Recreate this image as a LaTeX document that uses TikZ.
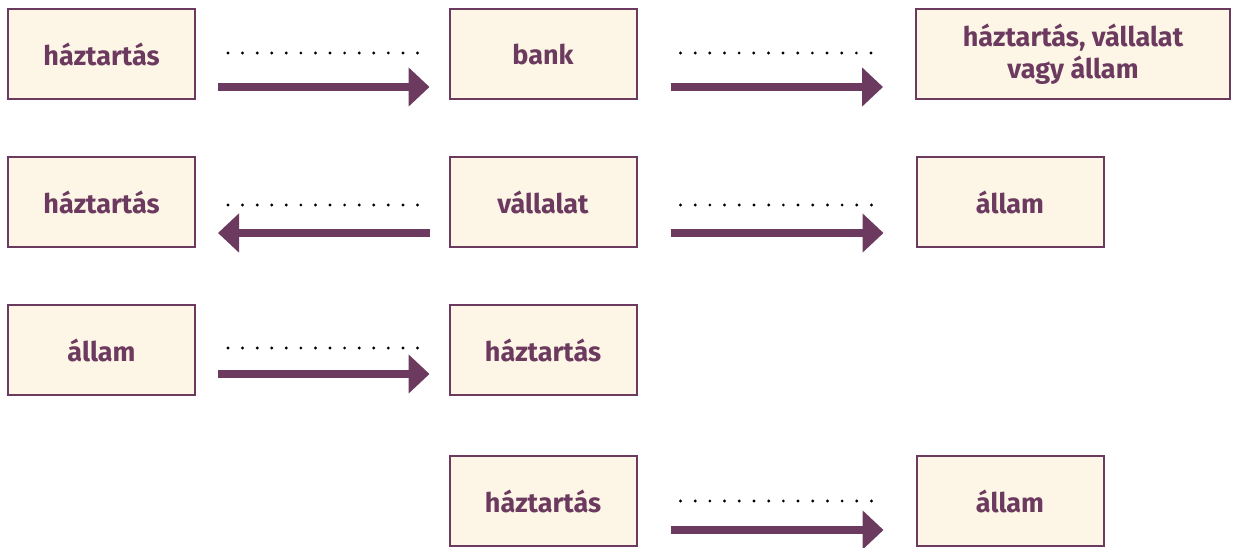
\documentclass[tikz,border=0pt]{standalone}
\usepackage{fontspec}
\setmainfont{Fira Sans}
\usetikzlibrary{arrows.meta,calc}
\definecolor{plum}{HTML}{6B3A5E}
\definecolor{cream}{HTML}{FDF5E6}
\tikzset{
  box/.style={draw=plum, line width=2pt, fill=cream, minimum width=187pt, minimum height=90pt,
    inner sep=0pt, align=center, text=plum, font=\fontsize{27}{32}\selectfont\bfseries},
  widebox/.style={box, minimum width=314pt},
  flow/.style={draw=plum, line width=8pt, -{Triangle[length=21pt,width=38pt]}}
}
\newcommand{\dotrow}[2]{%
  \foreach \k in {0,...,13} {\fill[black] ($(#1)!\k/13!(#2)$) circle (1.6pt);}}
\begin{document}
\begin{tikzpicture}[x=1pt,y=-1pt]
\useasboundingbox (0,0) rectangle (1237,548);
% row 1
\node[box] (h1) at (101.5,54) {háztartás};
\node[box] (b1) at (543,54) {bank};
\node[widebox] (w1) at (1073,54) {háztartás, vállalat\\vagy állam};
% row 2
\node[box] (h2) at (101.5,202) {háztartás};
\node[box] (v2) at (543,202) {vállalat};
\node[box] (a2) at (1010,202) {állam};
% row 3
\node[box] (a3) at (101.5,350) {állam};
\node[box] (h3) at (543,350) {háztartás};
% row 4
\node[box] (h4) at (543,501) {háztartás};
\node[box] (a4) at (1010,501) {állam};

% dotted-line end points
\coordinate (d1a) at ([xshift=32pt,yshift=1pt]h1.east);
\coordinate (d1b) at ([xshift=-31pt,yshift=1pt]b1.west);
\coordinate (d2a) at ([xshift=43pt,yshift=1pt]b1.east);
\coordinate (d2b) at ([xshift=-44pt,yshift=1pt]w1.west);
\coordinate (d3a) at ([xshift=32pt,yshift=-3pt]h2.east);
\coordinate (d3b) at ([xshift=-31pt,yshift=-3pt]v2.west);
\coordinate (d4a) at ([xshift=43pt,yshift=-3pt]v2.east);
\coordinate (d4b) at ([xshift=-44pt,yshift=-3pt]a2.west);
\coordinate (d5a) at ([xshift=32pt,yshift=2pt]a3.east);
\coordinate (d5b) at ([xshift=-31pt,yshift=2pt]h3.west);
\coordinate (d6a) at ([xshift=43pt]h4.east);
\coordinate (d6b) at ([xshift=-44pt]a4.west);
\dotrow{d1a}{d1b}
\dotrow{d2a}{d2b}
\dotrow{d3a}{d3b}
\dotrow{d4a}{d4b}
\dotrow{d5a}{d5b}
\dotrow{d6a}{d6b}

% arrows
\draw[flow] ([xshift=22pt,yshift=-33pt]h1.east) -- ([xshift=-19pt,yshift=-33pt]b1.west);
\draw[flow] ([xshift=33pt,yshift=-33pt]b1.east) -- ([xshift=-32pt,yshift=-33pt]w1.west);
\draw[flow] ([xshift=-19pt,yshift=-31pt]v2.west) -- ([xshift=22pt,yshift=-31pt]h2.east);
\draw[flow] ([xshift=33pt,yshift=-31pt]v2.east) -- ([xshift=-32pt,yshift=-31pt]a2.west);
\draw[flow] ([xshift=22pt,yshift=-24pt]a3.east) -- ([xshift=-19pt,yshift=-24pt]h3.west);
\draw[flow] ([xshift=33pt,yshift=-29pt]h4.east) -- ([xshift=-32pt,yshift=-29pt]a4.west);
\end{tikzpicture}
\end{document}
